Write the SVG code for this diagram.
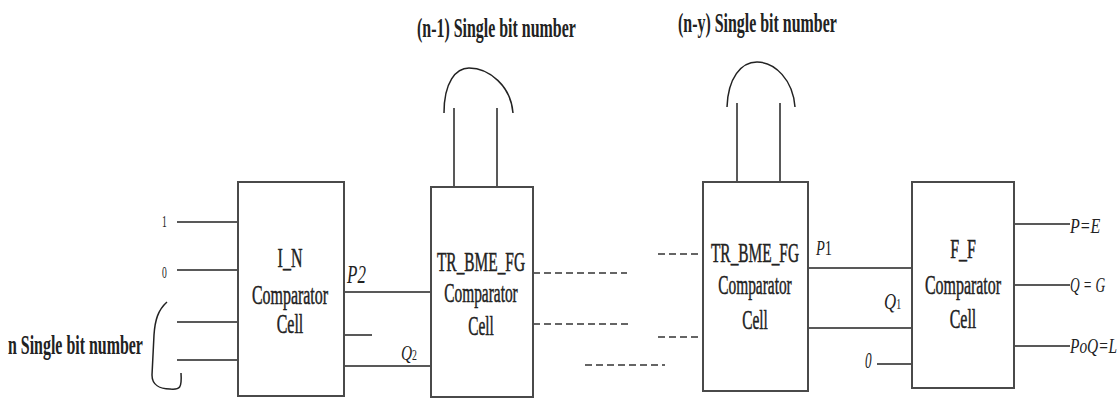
<svg xmlns="http://www.w3.org/2000/svg" width="1120" height="398" viewBox="0 0 1120 398">
<style>
  .box { fill: #fff; stroke: #4a4a4a; stroke-width: 2; }
  .wire { fill: none; stroke: #222; stroke-width: 1.5; }
  .dash { fill: none; stroke: #333; stroke-width: 1.5; stroke-dasharray: 7 4; }
  .t { font-family: "Liberation Serif", "Times New Roman", serif; fill: #222; }
  .big { font-size: 27px; font-weight: bold; }
  .lbl { font-size: 28px; text-anchor: middle; stroke: #222; stroke-width: 0.5; }
  .it { font-style: italic; }
</style>
<rect width="1120" height="398" fill="#fff"/>

<g id="connectors">
  <line class="wire" x1="177" y1="222" x2="238" y2="222"/>
  <line class="wire" x1="177" y1="270" x2="238" y2="270"/>
  <line class="wire" x1="177" y1="322" x2="238" y2="322"/>
  <line class="wire" x1="177" y1="360" x2="238" y2="360"/>
  <line class="wire" x1="344" y1="292" x2="431" y2="292"/>
  <line class="wire" x1="344" y1="335" x2="372" y2="335"/>
  <line class="wire" x1="344" y1="366" x2="431" y2="366"/>
  <line class="wire" x1="454" y1="108" x2="454" y2="187"/>
  <line class="wire" x1="497" y1="108" x2="497" y2="187"/>
  <path class="wire" d="M444,113 C444,82 456,68 469,68 C489,68 511,86 513,113"/>
  <line class="wire" x1="737" y1="103" x2="737" y2="182"/>
  <line class="wire" x1="780" y1="103" x2="780" y2="182"/>
  <path class="wire" d="M727,107 C728,78 741,62 757,62 C775,62 793,80 795,107"/>
  <line class="dash" x1="533" y1="273" x2="627" y2="273"/>
  <line class="dash" x1="533" y1="324" x2="629" y2="324"/>
  <line class="dash" x1="585" y1="365" x2="665" y2="365"/>
  <line class="dash" x1="658" y1="254" x2="703" y2="254"/>
  <line class="dash" x1="658" y1="337" x2="703" y2="337"/>
  <line class="wire" x1="808" y1="268" x2="912" y2="268"/>
  <line class="wire" x1="808" y1="328" x2="912" y2="328"/>
  <line class="wire" x1="877" y1="364" x2="912" y2="364"/>
  <line class="wire" x1="1014" y1="224" x2="1070" y2="224"/>
  <line class="wire" x1="1014" y1="285" x2="1070" y2="285"/>
  <line class="wire" x1="1014" y1="346" x2="1070" y2="346"/>
  <path class="wire" d="M167,302 C158,310 155,320 154,335 L152,375 C152,385 160,389 170,389 C180,390 182,388 181,373"/>
</g>

<g id="labels">
  <g transform="translate(8,354) scale(0.59,1)"><text class="t big">n Single bit number</text></g>
  <g transform="translate(417,37) scale(0.59,1)"><text class="t big">(n-1) Single bit number</text></g>
  <g transform="translate(678,32) scale(0.59,1)"><text class="t big">(n-y) Single bit number</text></g>
  <g transform="translate(162,227) scale(0.6,1)"><text class="t" font-size="16">1</text></g>
  <g transform="translate(162,278) scale(0.6,1)"><text class="t" font-size="16">0</text></g>
  <g transform="translate(347,283) scale(0.68,1)"><text class="t it" font-size="25">P2</text></g>
  <g transform="translate(401,360) scale(0.7,1)"><text class="t it" font-size="22">Q<tspan font-size="14" font-style="normal">2</tspan></text></g>
  <g transform="translate(816,255) scale(0.72,1)"><text class="t it" font-size="20">P<tspan font-style="normal">1</tspan></text></g>
  <g transform="translate(884,309) scale(0.7,1)"><text class="t it" font-size="24">Q<tspan font-size="14" font-style="normal">1</tspan></text></g>
  <g transform="translate(865,368) scale(0.55,1)"><text class="t it" font-size="24">0</text></g>
  <g transform="translate(1070,233) scale(0.8,1)"><text class="t it" font-size="20">P=E</text></g>
  <g transform="translate(1070,292) scale(0.67,1)"><text class="t it" font-size="20">Q = G</text></g>
  <g transform="translate(1070,353) scale(0.77,1)"><text class="t it" font-size="20">PoQ=L</text></g>
</g>

<g id="node-in">
  <rect class="box" x="238" y="182" width="106" height="214"/>
  <g transform="translate(290,0) scale(0.57,1)">
    <text class="t lbl" x="0" y="267">I_N</text>
    <text class="t lbl" x="0" y="304">Comparator</text>
    <text class="t lbl" x="0" y="333">Cell</text>
  </g>
</g>

<g id="node-tr1">
  <rect class="box" x="431" y="187" width="102" height="210"/>
  <g transform="translate(481,0) scale(0.55,1)">
    <text class="t lbl" x="0" y="271">TR_BME_FG</text>
    <text class="t lbl" x="0" y="302">Comparator</text>
    <text class="t lbl" x="0" y="335">Cell</text>
  </g>
</g>

<g id="node-tr2">
  <rect class="box" x="703" y="182" width="105" height="209"/>
  <g transform="translate(755,0) scale(0.55,1)">
    <text class="t lbl" x="0" y="262">TR_BME_FG</text>
    <text class="t lbl" x="0" y="294">Comparator</text>
    <text class="t lbl" x="0" y="329">Cell</text>
  </g>
</g>

<g id="node-ff">
  <rect class="box" x="912" y="182" width="102" height="206"/>
  <g transform="translate(963,0) scale(0.57,1)">
    <text class="t lbl" x="0" y="258">F_F</text>
    <text class="t lbl" x="0" y="294">Comparator</text>
    <text class="t lbl" x="0" y="328">Cell</text>
  </g>
</g>
</svg>
